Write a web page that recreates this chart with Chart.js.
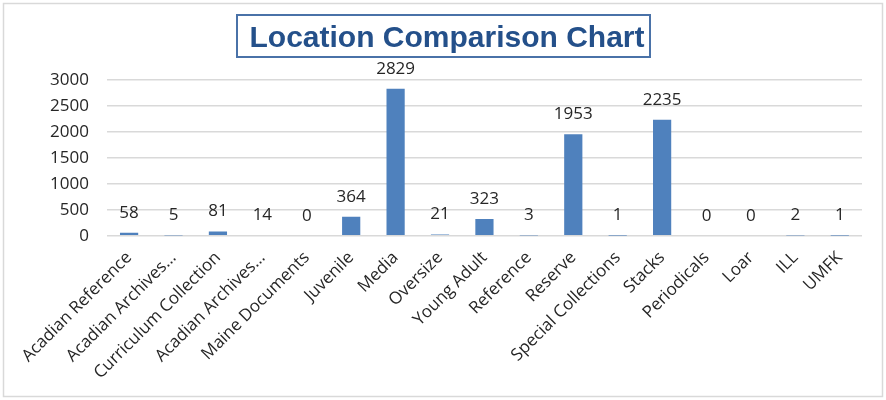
<!DOCTYPE html>
<html>
<head>
<meta charset="utf-8">
<script src="https://cdn.jsdelivr.net/npm/chart.js@4"></script>
<style>
  html, body { margin: 0; padding: 0; background: #fff; }
  #wrap { width: 886px; height: 400px; position: relative; }
</style>
</head>
<body>
<div id="wrap"><canvas id="chart"></canvas></div>
<script>
const categories = [
  "Acadian Reference", "Acadian Archives…", "Curriculum Collection", "Acadian Archives…",
  "Maine Documents", "Juvenile", "Media", "Oversize", "Young Adult", "Reference",
  "Reserve", "Special Collections", "Stacks", "Periodicals", "Loar", "ILL", "UMFK"
];
const counts = [58, 5, 81, 14, 0, 364, 2829, 21, 323, 3, 1953, 1, 2235, 0, 0, 2, 1];
const yTicks = [0, 500, 1000, 1500, 2000, 2500, 3000];

const font = "'Open Sans', sans-serif";

// frame round the whole chart and box round the title
const framePlugin = {
  id: "frame",
  beforeDraw(chart) {
    const ctx = chart.ctx;
    ctx.save();
    ctx.strokeStyle = "#d9d9d9";
    ctx.lineWidth = 1.5;
    ctx.strokeRect(3.5, 3.5, chart.width - 7, chart.height - 7);
    ctx.restore();
  },
  afterDraw(chart) {
    const ctx = chart.ctx;
    ctx.save();
    ctx.strokeStyle = "#4a72a8";
    ctx.lineWidth = 2;
    ctx.strokeRect(237, 15, 413, 42);
    ctx.restore();
  }
};

// value labels above each bar
const valueLabels = {
  id: "valueLabels",
  afterDatasetsDraw(chart) {
    const ctx = chart.ctx;
    const meta = chart.getDatasetMeta(0);
    ctx.save();
    ctx.font = "17px " + font;
    ctx.fillStyle = "#262626";
    ctx.textAlign = "center";
    ctx.textBaseline = "middle";
    meta.data.forEach((bar, i) => {
      ctx.fillText(String(counts[i]), bar.x, bar.y - 20);
    });
    ctx.restore();
  }
};

new Chart(document.getElementById("chart"), {
  type: "bar",
  data: {
    labels: categories,
    datasets: [
      {
        data: counts,
        backgroundColor: "#4f81bd",
        barPercentage: 0.82,
        categoryPercentage: 0.5,
      },
    ],
  },
  options: {
    responsive: true,
    maintainAspectRatio: false,
    animation: false,
    layout: { padding: { left: 32, right: 24, top: 6, bottom: 13 } },
    plugins: {
      legend: { display: false },
      tooltip: { enabled: false },
      title: {
        display: true,
        text: "Location Comparison Chart",
        color: "#24508a",
        font: { family: "'Liberation Sans', Arial, sans-serif", size: 30, weight: "bold" },
        padding: { top: 15, bottom: 23 },
      },
    },
    scales: {
      x: {
        grid: { display: false },
        border: { display: false },
        ticks: {
          autoSkip: false,
          minRotation: 45,
          maxRotation: 45,
          color: "#262626",
          font: { family: font, size: 17 },
          padding: 4,
        },
      },
      y: {
        min: 0,
        max: 3000,
        afterBuildTicks(axis) {
          axis.ticks = yTicks.map(v => ({ value: v }));
        },
        grid: { color: "#d9d9d9", lineWidth: 1.5, drawTicks: false },
        border: { display: false },
        ticks: {
          color: "#262626",
          font: { family: font, size: 17 },
          padding: 18,
          callback: v => String(v),
        },
      },
    },
  },
  plugins: [framePlugin, valueLabels],
});
</script>
</body>
</html>
